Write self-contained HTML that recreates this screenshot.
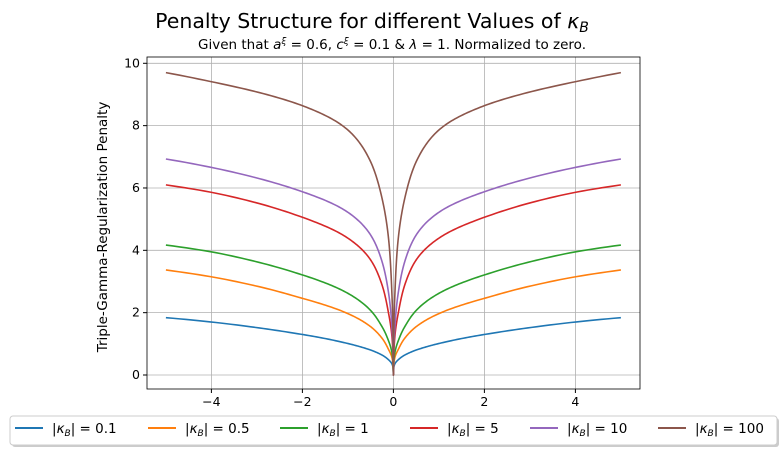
<!DOCTYPE html>
<html><head><meta charset="utf-8"><style>
body{margin:0;background:#fff;font-family:"Liberation Sans","DejaVu Sans",sans-serif}
svg text{font-family:"DejaVu Sans","Liberation Sans",sans-serif}
</style></head><body>
<svg id="c" width="784" height="453" xmlns="http://www.w3.org/2000/svg">
<text x="372" y="28" text-anchor="middle" font-size="20.5">Penalty Structure for different Values of <tspan font-style="italic">κ</tspan><tspan font-style="italic" font-size="14" dy="4">B</tspan></text>
<text x="392" y="49" text-anchor="middle" font-size="13.5">Given that <tspan font-style="italic">a</tspan><tspan font-size="9" dy="-5" font-style="italic">ξ</tspan><tspan dy="5"> = 0.6, </tspan><tspan font-style="italic">c</tspan><tspan font-size="9" dy="-5" font-style="italic">ξ</tspan><tspan dy="5"> = 0.1 &amp; </tspan><tspan font-style="italic">λ</tspan> = 1. Normalized to zero.</text>
<g id="grid"></g><g id="series"></g><g id="axes"></g>
<text transform="translate(107,227) rotate(-90)" text-anchor="middle" font-size="13.5">Triple-Gamma-Regularization Penalty</text>
<g id="legend"></g>
</svg>
<script>
const xs=[0.01,0.03,0.1,0.25,0.5,1,2,3,4,5];
const labels=["0.1","0.5","1","5","10","100"];
const colors=["#1f77b4","#ff7f0e","#2ca02c","#d62728","#9467bd","#8c564b"];
const sBlue=[0.25,0.35,0.48,0.64,0.80,1.01,1.30,1.52,1.70,1.84];
const sOrange=[0.35,0.55,0.80,1.18,1.55,1.97,2.46,2.85,3.15,3.37];
const sGreen=[0.45,0.70,1.07,1.55,2.07,2.62,3.21,3.63,3.95,4.17];
const sRed=[0.7,1.2,1.93,2.89,3.69,4.39,5.06,5.52,5.86,6.10];
const sPurple=[0.9,1.5,2.57,3.64,4.49,5.22,5.88,6.32,6.66,6.93];
const sBrown=[1.5,2.5,4.28,5.67,6.84,7.86,8.64,9.08,9.41,9.70];
const series=[sBlue,sOrange,sGreen,sRed,sPurple,sBrown];
const xTicks=[-4,-2,0,2,4], yTicks=[0,2,4,6,8,10];
const L=147,R=640,T=57,B=389;
const X=v=>393.4+v*45.5, Y=v=>375-v*31.17;
const NS="http://www.w3.org/2000/svg";
function mk(p,t,a){const e=document.createElementNS(NS,t);for(const k in a)e.setAttribute(k,a[k]);p.appendChild(e);return e;}
function interp(xa,ya){const n=xa.length,lx=xa.map(Math.log),d=[],m=[];
for(let i=0;i<n-1;i++)d.push((ya[i+1]-ya[i])/(lx[i+1]-lx[i]));
m[0]=d[0];m[n-1]=d[n-2];for(let i=1;i<n-1;i++)m[i]=(d[i-1]*d[i]<=0)?0:2/(1/d[i-1]+1/d[i]);
return x=>{const u=Math.log(x);let i=0;while(i<n-2&&u>lx[i+1])i++;const h=lx[i+1]-lx[i],t=(u-lx[i])/h;
const h00=2*t*t*t-3*t*t+1,h10=t*t*t-2*t*t+t,h01=-2*t*t*t+3*t*t,h11=t*t*t-t*t;
return h00*ya[i]+h10*h*m[i]+h01*ya[i+1]+h11*h*m[i+1];};}
const g=document.getElementById('grid'),ax=document.getElementById('axes'),sg=document.getElementById('series');
xTicks.forEach(t=>{const l=mk(g,'line',{x1:X(t),x2:X(t),y1:T,y2:B,stroke:'#b0b0b0','stroke-width':0.8});

mk(ax,'line',{x1:X(t),x2:X(t),y1:B,y2:B+4,stroke:'#000'});
const tx=mk(ax,'text',{x:X(t),y:B+17,'text-anchor':'middle','font-size':12.5});tx.textContent=(t<0?'−':'')+Math.abs(t);
});
yTicks.forEach(t=>{const l=mk(g,'line',{x1:L,x2:R,y1:Y(t),y2:Y(t),stroke:'#b0b0b0','stroke-width':0.8});

mk(ax,'line',{x1:L-4,x2:L,y1:Y(t),y2:Y(t),stroke:'#000'});
const tx=mk(ax,'text',{x:L-7,y:Y(t)+4,'text-anchor':'end','font-size':12.5});tx.textContent=t;
});
const fr=mk(ax,'rect',{x:L,y:T,width:R-L,height:B-T,fill:'none',stroke:'#000','stroke-width':0.8});

series.forEach((s,i)=>{const f=interp(xs,s),samp=[];
for(let k=0;k<=200;k++){samp.push(xs[0]*Math.pow(xs[xs.length-1]/xs[0],k/200));}
const pts=[];for(let k=samp.length-1;k>=0;k--)pts.push(X(-samp[k]).toFixed(2)+','+Y(f(samp[k])).toFixed(2));
pts.push(X(0)+','+Y(0));
for(let k=0;k<samp.length;k++)pts.push(X(samp[k]).toFixed(2)+','+Y(f(samp[k])).toFixed(2));
const p=mk(sg,'polyline',{points:pts.join(' '),fill:'none',stroke:colors[i],'stroke-width':1.6,'stroke-linejoin':'round'});
});
const lg=document.getElementById('legend');
mk(lg,'rect',{x:12,y:418,width:767,height:29,rx:3,fill:'#999',opacity:0.5});
mk(lg,'rect',{x:10,y:416,width:767,height:29,rx:3,fill:'#fff',stroke:'#ccc'});
const lx=[15,148,280,410,530,658];
labels.forEach((lb,i)=>{mk(lg,'line',{x1:lx[i],x2:lx[i]+28,y1:428,y2:428,stroke:colors[i],'stroke-width':2});
const t=mk(lg,'text',{x:lx[i]+37,y:433,'font-size':13.5});
t.innerHTML='|<tspan font-style="italic">κ</tspan><tspan font-style="italic" font-size="9" dy="3">B</tspan><tspan dy="-3">| = '+lb+'</tspan>';
});
</script>
</body></html>
